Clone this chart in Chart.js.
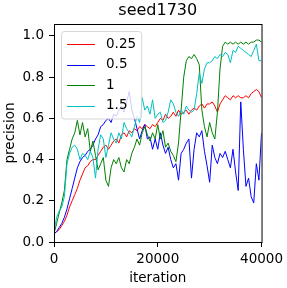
<!DOCTYPE html>
<html><head><meta charset="utf-8">
<script src="https://cdn.jsdelivr.net/npm/chart.js@4.4.1/dist/chart.umd.min.js"></script>
<style>html,body{margin:0;padding:0;background:#fff;}canvas{display:block;}</style>
</head><body>
<canvas id="c" width="287" height="288"></canvas>
<script>
const TITLE = 'seed1730';
const X_LABEL = 'iteration';
const Y_LABEL = 'precision';
const seriesLabels = ['0.25', '0.5', '1', '1.5'];
const seriesColors = ['#ff0000', '#0000ff', '#008000', '#00bfbf'];
const STEP = 500; // logging interval (iterations)
const xTicks = [0, 20000, 40000];
const yTicks = [0, 0.2, 0.4, 0.6, 0.8, 1.0];

const s025 = [0.04,0.05,0.06,0.08,0.10,0.13,0.17,0.20,0.23,0.26,
  0.30,0.33,0.36,0.37,0.39,0.40,0.40,0.42,0.44,0.46,
  0.47,0.45,0.47,0.49,0.50,0.48,0.52,0.53,0.51,0.54,
  0.53,0.55,0.54,0.56,0.55,0.57,0.56,0.55,0.57,0.56,
  0.58,0.60,0.59,0.62,0.60,0.61,0.63,0.61,0.64,0.62,
  0.63,0.64,0.62,0.64,0.65,0.64,0.66,0.67,0.65,0.67,
  0.67,0.68,0.66,0.63,0.67,0.69,0.71,0.70,0.69,0.71,
  0.70,0.71,0.70,0.70,0.71,0.70,0.72,0.73,0.74,0.73,
  0.70];
const s05 = [0.04,0.05,0.07,0.09,0.12,0.16,0.21,0.26,0.31,0.36,
  0.39,0.41,0.42,0.44,0.45,0.47,0.50,0.52,0.56,0.57,
  0.59,0.60,0.58,0.62,0.61,0.64,0.66,0.63,0.68,0.73,
  0.64,0.60,0.55,0.50,0.54,0.57,0.50,0.51,0.45,0.50,
  0.45,0.53,0.47,0.43,0.46,0.40,0.36,0.38,0.30,0.43,
  0.45,0.48,0.50,0.31,0.45,0.53,0.51,0.54,0.44,0.37,
  0.29,0.47,0.41,0.38,0.43,0.41,0.44,0.40,0.36,0.45,
  0.34,0.25,0.68,0.45,0.27,0.31,0.22,0.19,0.38,0.30,
  0.53];
const s1 = [0.04,0.09,0.14,0.19,0.25,0.40,0.45,0.50,0.53,0.59,
  0.52,0.58,0.51,0.55,0.44,0.49,0.42,0.35,0.38,0.41,
  0.30,0.27,0.36,0.40,0.38,0.41,0.36,0.34,0.40,0.38,
  0.43,0.46,0.50,0.47,0.53,0.56,0.52,0.49,0.53,0.50,
  0.57,0.50,0.54,0.46,0.48,0.44,0.42,0.39,0.48,0.64,
  0.80,0.88,0.90,0.89,0.91,0.89,0.86,0.64,0.56,0.51,
  0.58,0.53,0.50,0.63,0.84,0.95,0.97,0.96,0.97,0.96,
  0.97,0.96,0.97,0.96,0.97,0.96,0.97,0.97,0.98,0.98,
  0.97];
const s15 = [0.05,0.12,0.15,0.17,0.22,0.38,0.43,0.46,0.47,0.45,
  0.40,0.43,0.42,0.40,0.44,0.41,0.31,0.45,0.52,0.50,
  0.41,0.47,0.53,0.50,0.48,0.53,0.50,0.58,0.55,0.53,
  0.51,0.56,0.61,0.58,0.70,0.64,0.66,0.62,0.69,0.60,
  0.62,0.63,0.58,0.59,0.63,0.69,0.67,0.63,0.61,0.64,
  0.62,0.66,0.64,0.63,0.64,0.72,0.82,0.77,0.84,0.87,
  0.87,0.88,0.90,0.89,0.91,0.90,0.92,0.91,0.87,0.93,
  0.92,0.95,0.94,0.93,0.92,0.91,0.90,0.93,0.96,0.88,
  0.88];
const seriesValues = [s025, s05, s1, s15];

const FONT = "'DejaVu Sans', sans-serif";
const FS = 13.5;

const datasets = seriesValues.map((vals, k) => ({
  label: seriesLabels[k],
  data: vals.map((v, i) => ({x: i * STEP, y: v})),
  borderColor: seriesColors[k],
  backgroundColor: seriesColors[k],
  borderWidth: 1,
  pointRadius: 0,
  tension: 0,
  fill: false,
  order: seriesValues.length - k
}));

const framePlugin = {
  id: 'frame',
  afterDatasetsDraw(chart) {
    const {ctx, chartArea: a} = chart;
    ctx.save();
    ctx.strokeStyle = '#000';
    ctx.lineWidth = 1;
    ctx.strokeRect(a.left + 0.5, a.top + 0.5, a.right - a.left, a.bottom - a.top);
    ctx.restore();
  }
};

const titlePlugin = {
  id: 'axTitle',
  afterDraw(chart) {
    const {ctx, chartArea: a} = chart;
    ctx.save();
    ctx.font = '16px ' + FONT;
    ctx.fillStyle = '#000';
    ctx.textAlign = 'center';
    ctx.textBaseline = 'middle';
    ctx.fillText(TITLE, (a.left + a.right) / 2, 11);
    ctx.restore();
  }
};

const legendPlugin = {
  id: 'mplLegend',
  afterDraw(chart) {
    const {ctx, chartArea: a} = chart;
    ctx.save();
    ctx.font = FS + 'px ' + FONT;
    const pad = 5.6, handle = 27.8, gap = 11.1, pitch = 20.5;
    const tw = Math.max(...seriesLabels.map(l => ctx.measureText(l).width));
    const bx = a.left + 7.5, by = a.top + 7.5;
    const w = pad + handle + gap + tw + pad;
    const h = 87.5;
    const r = 3;
    ctx.beginPath();
    ctx.moveTo(bx + r, by);
    ctx.lineTo(bx + w - r, by);
    ctx.quadraticCurveTo(bx + w, by, bx + w, by + r);
    ctx.lineTo(bx + w, by + h - r);
    ctx.quadraticCurveTo(bx + w, by + h, bx + w - r, by + h);
    ctx.lineTo(bx + r, by + h);
    ctx.quadraticCurveTo(bx, by + h, bx, by + h - r);
    ctx.lineTo(bx, by + r);
    ctx.quadraticCurveTo(bx, by, bx + r, by);
    ctx.closePath();
    ctx.fillStyle = 'rgba(255,255,255,0.8)';
    ctx.fill();
    ctx.strokeStyle = 'rgba(204,204,204,0.8)';
    ctx.lineWidth = 1;
    ctx.stroke();
    seriesLabels.forEach((lab, i) => {
      const cy = by + 12.5 + i * pitch;
      ctx.strokeStyle = seriesColors[i];
      ctx.lineWidth = 1;
      ctx.beginPath();
      ctx.moveTo(bx + pad, Math.round(cy) + 0.5);
      ctx.lineTo(bx + pad + handle, Math.round(cy) + 0.5);
      ctx.stroke();
      ctx.fillStyle = '#000';
      ctx.textBaseline = 'middle';
      ctx.textAlign = 'left';
      ctx.fillText(lab, bx + pad + handle + gap, cy);
    });
    ctx.restore();
  }
};

new Chart(document.getElementById('c'), {
  type: 'line',
  data: {datasets},
  options: {
    responsive: false,
    animation: false,
    devicePixelRatio: 1,
    layout: {padding: {left: 0, right: 25, top: 24, bottom: 0}},
    plugins: {
      legend: {display: false},
      tooltip: {enabled: false},
      title: {display: false}
    },
    scales: {
      x: {
        type: 'linear', min: 0, max: 40000,
        afterBuildTicks: s => { s.ticks = xTicks.map(v => ({value: v})); },
        afterFit: s => { s.height = 46; },
        grid: {display: true, drawOnChartArea: false, drawTicks: true, tickLength: 5, color: '#000', lineWidth: 1},
        border: {display: false},
        ticks: {color: '#000', font: {family: FONT, size: FS}, padding: 4, maxRotation: 0, autoSkip: false,
          callback: v => String(v)},
        title: {display: true, text: X_LABEL, color: '#000', font: {family: FONT, size: FS}, padding: {top: 0, bottom: 1.5}}
      },
      y: {
        type: 'linear', min: 0, max: 1.058,
        afterBuildTicks: s => { s.ticks = yTicks.map(v => ({value: v})); },
        afterFit: s => { s.width = 54; },
        grid: {display: true, drawOnChartArea: false, drawTicks: true, tickLength: 5, color: '#000', lineWidth: 1},
        border: {display: false},
        ticks: {color: '#000', font: {family: FONT, size: FS}, padding: 5, autoSkip: false,
          callback: v => Number(v).toFixed(1)},
        title: {display: true, text: Y_LABEL, color: '#000', font: {family: FONT, size: FS}, padding: {top: 2, bottom: 0}}
      }
    }
  },
  plugins: [framePlugin, titlePlugin, legendPlugin]
});
</script>
</body></html>
